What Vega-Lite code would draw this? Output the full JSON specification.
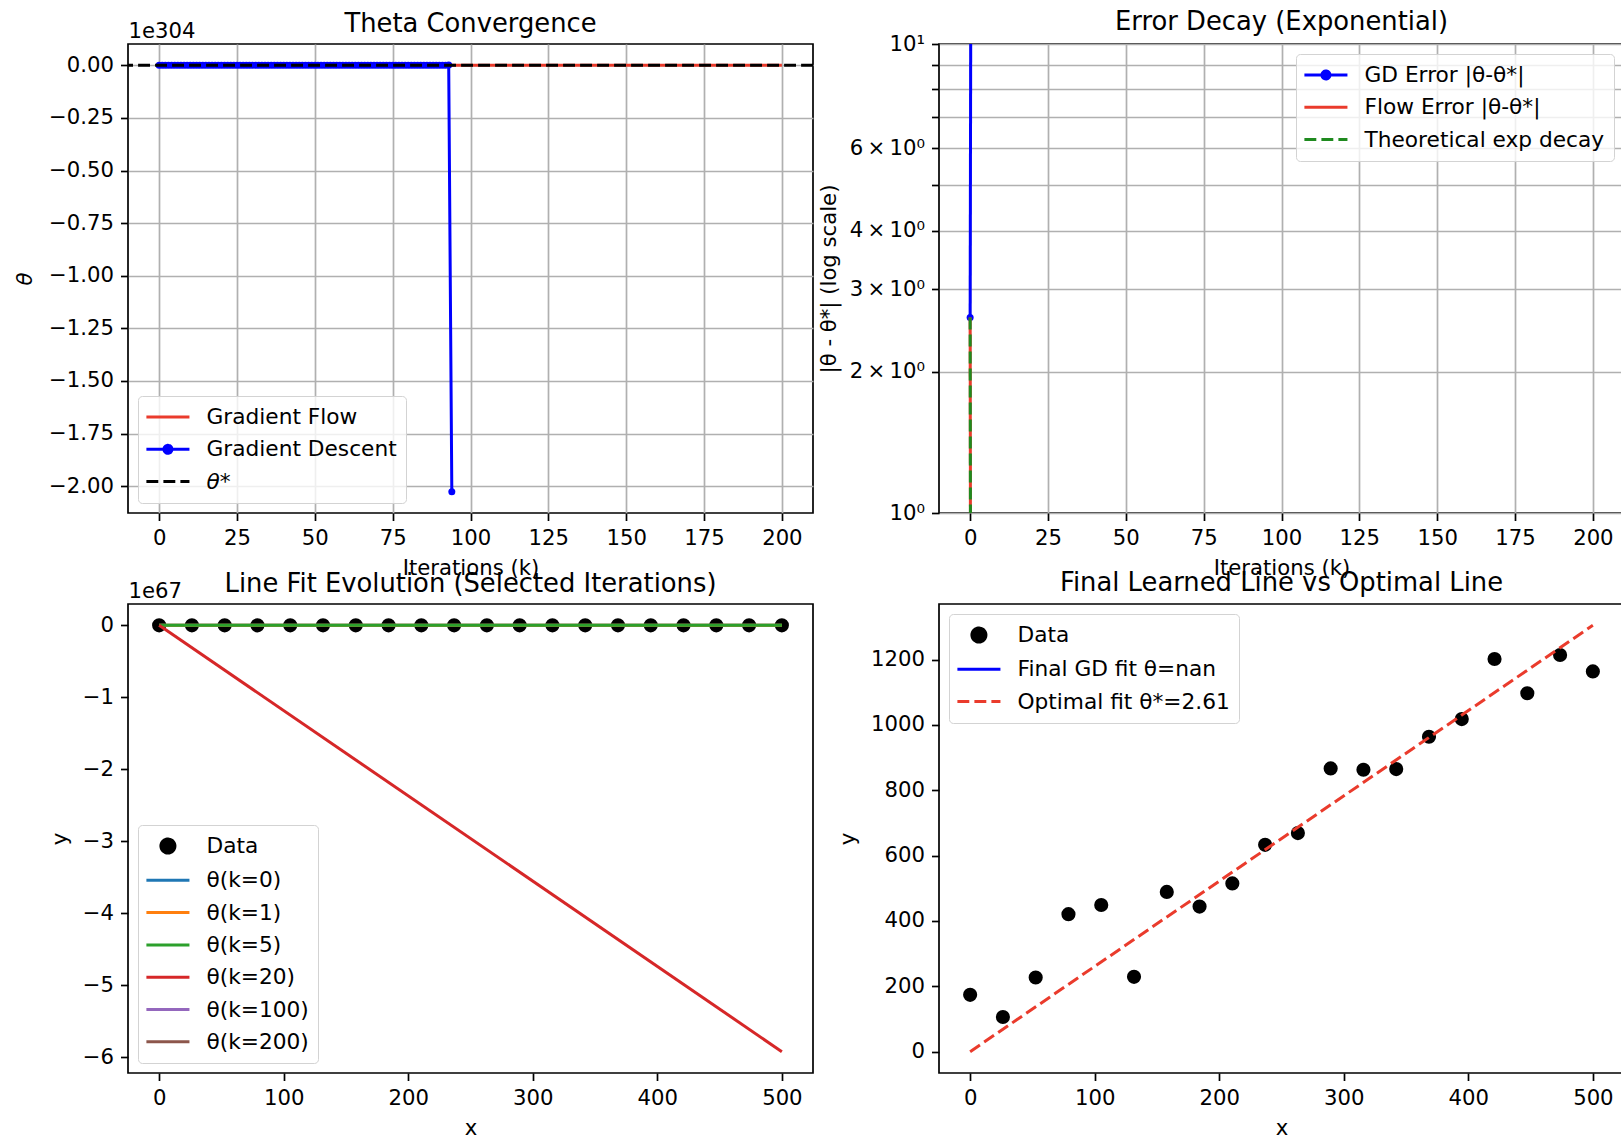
{
"$schema": "https://vega.github.io/schema/vega-lite/v6.json",
"padding": {"left": 13, "top": 7, "right": 0, "bottom": 0},
"background": "white",
"bounds": "flush",
"columns": 2,
"spacing": {"row": 91, "column": 126},
"datasets": {
"gd_theta": [
{"k":0,"theta":0,"series":"Gradient Descent"},{"k":1,"theta":0,"series":"Gradient Descent"},{"k":2,"theta":0,"series":"Gradient Descent"},{"k":3,"theta":0,"series":"Gradient Descent"},{"k":4,"theta":0,"series":"Gradient Descent"},{"k":5,"theta":0,"series":"Gradient Descent"},{"k":6,"theta":0,"series":"Gradient Descent"},{"k":7,"theta":0,"series":"Gradient Descent"},{"k":8,"theta":0,"series":"Gradient Descent"},{"k":9,"theta":0,"series":"Gradient Descent"},
{"k":10,"theta":0,"series":"Gradient Descent"},{"k":11,"theta":0,"series":"Gradient Descent"},{"k":12,"theta":0,"series":"Gradient Descent"},{"k":13,"theta":0,"series":"Gradient Descent"},{"k":14,"theta":0,"series":"Gradient Descent"},{"k":15,"theta":0,"series":"Gradient Descent"},{"k":16,"theta":0,"series":"Gradient Descent"},{"k":17,"theta":0,"series":"Gradient Descent"},{"k":18,"theta":0,"series":"Gradient Descent"},{"k":19,"theta":0,"series":"Gradient Descent"},
{"k":20,"theta":0,"series":"Gradient Descent"},{"k":21,"theta":0,"series":"Gradient Descent"},{"k":22,"theta":0,"series":"Gradient Descent"},{"k":23,"theta":0,"series":"Gradient Descent"},{"k":24,"theta":0,"series":"Gradient Descent"},{"k":25,"theta":0,"series":"Gradient Descent"},{"k":26,"theta":0,"series":"Gradient Descent"},{"k":27,"theta":0,"series":"Gradient Descent"},{"k":28,"theta":0,"series":"Gradient Descent"},{"k":29,"theta":0,"series":"Gradient Descent"},
{"k":30,"theta":0,"series":"Gradient Descent"},{"k":31,"theta":0,"series":"Gradient Descent"},{"k":32,"theta":0,"series":"Gradient Descent"},{"k":33,"theta":0,"series":"Gradient Descent"},{"k":34,"theta":0,"series":"Gradient Descent"},{"k":35,"theta":0,"series":"Gradient Descent"},{"k":36,"theta":0,"series":"Gradient Descent"},{"k":37,"theta":0,"series":"Gradient Descent"},{"k":38,"theta":0,"series":"Gradient Descent"},{"k":39,"theta":0,"series":"Gradient Descent"},
{"k":40,"theta":0,"series":"Gradient Descent"},{"k":41,"theta":0,"series":"Gradient Descent"},{"k":42,"theta":0,"series":"Gradient Descent"},{"k":43,"theta":0,"series":"Gradient Descent"},{"k":44,"theta":0,"series":"Gradient Descent"},{"k":45,"theta":0,"series":"Gradient Descent"},{"k":46,"theta":0,"series":"Gradient Descent"},{"k":47,"theta":0,"series":"Gradient Descent"},{"k":48,"theta":0,"series":"Gradient Descent"},{"k":49,"theta":0,"series":"Gradient Descent"},
{"k":50,"theta":0,"series":"Gradient Descent"},{"k":51,"theta":0,"series":"Gradient Descent"},{"k":52,"theta":0,"series":"Gradient Descent"},{"k":53,"theta":0,"series":"Gradient Descent"},{"k":54,"theta":0,"series":"Gradient Descent"},{"k":55,"theta":0,"series":"Gradient Descent"},{"k":56,"theta":0,"series":"Gradient Descent"},{"k":57,"theta":0,"series":"Gradient Descent"},{"k":58,"theta":0,"series":"Gradient Descent"},{"k":59,"theta":0,"series":"Gradient Descent"},
{"k":60,"theta":0,"series":"Gradient Descent"},{"k":61,"theta":0,"series":"Gradient Descent"},{"k":62,"theta":0,"series":"Gradient Descent"},{"k":63,"theta":0,"series":"Gradient Descent"},{"k":64,"theta":0,"series":"Gradient Descent"},{"k":65,"theta":0,"series":"Gradient Descent"},{"k":66,"theta":0,"series":"Gradient Descent"},{"k":67,"theta":0,"series":"Gradient Descent"},{"k":68,"theta":0,"series":"Gradient Descent"},{"k":69,"theta":0,"series":"Gradient Descent"},
{"k":70,"theta":0,"series":"Gradient Descent"},{"k":71,"theta":0,"series":"Gradient Descent"},{"k":72,"theta":0,"series":"Gradient Descent"},{"k":73,"theta":0,"series":"Gradient Descent"},{"k":74,"theta":0,"series":"Gradient Descent"},{"k":75,"theta":0,"series":"Gradient Descent"},{"k":76,"theta":0,"series":"Gradient Descent"},{"k":77,"theta":0,"series":"Gradient Descent"},{"k":78,"theta":0,"series":"Gradient Descent"},{"k":79,"theta":0,"series":"Gradient Descent"},
{"k":80,"theta":0,"series":"Gradient Descent"},{"k":81,"theta":0,"series":"Gradient Descent"},{"k":82,"theta":0,"series":"Gradient Descent"},{"k":83,"theta":0,"series":"Gradient Descent"},{"k":84,"theta":0,"series":"Gradient Descent"},{"k":85,"theta":0,"series":"Gradient Descent"},{"k":86,"theta":0,"series":"Gradient Descent"},{"k":87,"theta":0,"series":"Gradient Descent"},{"k":88,"theta":0,"series":"Gradient Descent"},{"k":89,"theta":0,"series":"Gradient Descent"},
{"k":90,"theta":0,"series":"Gradient Descent"},{"k":91,"theta":0,"series":"Gradient Descent"},{"k":92,"theta":0,"series":"Gradient Descent"},{"k":93,"theta":1.19e301,"series":"Gradient Descent"},{"k":94,"theta":-2.026e304,"series":"Gradient Descent"}
],
"flow_theta": [
{"k":0,"theta":0,"series":"Gradient Flow"},{"k":1,"theta":2.61,"series":"Gradient Flow"},{"k":2,"theta":2.61,"series":"Gradient Flow"},{"k":5,"theta":2.61,"series":"Gradient Flow"},{"k":10,"theta":2.61,"series":"Gradient Flow"},{"k":20,"theta":2.61,"series":"Gradient Flow"},{"k":50,"theta":2.61,"series":"Gradient Flow"},{"k":100,"theta":2.61,"series":"Gradient Flow"},{"k":150,"theta":2.61,"series":"Gradient Flow"},{"k":200,"theta":2.61,"series":"Gradient Flow"}
],
"theta_star": [{"theta":2.61,"series":"θ*"}],
"gd_err": [{"k":0,"err":2.61,"series":"GD Error |θ-θ*|"},{"k":1,"err":4460,"series":"GD Error |θ-θ*|"}],
"flow_err": [{"k":0,"err":2.61,"series":"Flow Error |θ-θ*|"},{"k":1,"err":0.0001,"series":"Flow Error |θ-θ*|"}],
"theory_err": [{"k":0,"err":2.61,"series":"Theoretical exp decay"},{"k":1,"err":0.0001,"series":"Theoretical exp decay"}],
"points": [
{"x":0,"y":174,"series":"Data"},{"x":26.316,"y":106,"series":"Data"},{"x":52.632,"y":227,"series":"Data"},{"x":78.947,"y":421,"series":"Data"},{"x":105.263,"y":449,"series":"Data"},
{"x":131.579,"y":229,"series":"Data"},{"x":157.895,"y":489,"series":"Data"},{"x":184.211,"y":444,"series":"Data"},{"x":210.526,"y":515,"series":"Data"},{"x":236.842,"y":633,"series":"Data"},
{"x":263.158,"y":669,"series":"Data"},{"x":289.474,"y":867,"series":"Data"},{"x":315.789,"y":863,"series":"Data"},{"x":342.105,"y":865,"series":"Data"},{"x":368.421,"y":964,"series":"Data"},
{"x":394.737,"y":1018,"series":"Data"},{"x":421.053,"y":1202,"series":"Data"},{"x":447.368,"y":1097,"series":"Data"},{"x":473.684,"y":1214,"series":"Data"},{"x":500,"y":1164,"series":"Data"}
],
"fits": [
{"x":0,"y":0,"series":"θ(k=0)"},{"x":500,"y":0,"series":"θ(k=0)"},
{"x":0,"y":0,"series":"θ(k=1)"},{"x":500,"y":2230000,"series":"θ(k=1)"},
{"x":0,"y":0,"series":"θ(k=5)"},{"x":500,"y":1.9e19,"series":"θ(k=5)"},
{"x":0,"y":0,"series":"θ(k=20)"},{"x":500,"y":-5.92e67,"series":"θ(k=20)"},
{"x":0,"y":null,"series":"θ(k=100)"},{"x":500,"y":null,"series":"θ(k=100)"},
{"x":0,"y":null,"series":"θ(k=200)"},{"x":500,"y":null,"series":"θ(k=200)"}
],
"final_gd": [{"x":0,"y":null,"series":"Final GD fit θ=nan"},{"x":500,"y":null,"series":"Final GD fit θ=nan"}],
"optimal": [{"x":0,"y":0,"series":"Optimal fit θ*=2.61"},{"x":500,"y":1305,"series":"Optimal fit θ*=2.61"}]
},
"concat": [
{
"title": {"text": "Theta Convergence", "offset": -17.5},
"width": 685, "height": 469,
"encoding": {
"y": {"field": "theta", "type": "quantitative", "scale": {"domain": [-2.1274e304, 1.013e303], "nice": false, "zero": false},
"axis": {"values": [-2e304, -1.75e304, -1.5e304, -1.25e304, -1e304, -7.5e303, -5e303, -2.5e303, 0], "labelExpr": "format(datum.value / 1e304, '.2f')", "grid": true, "title": "θ", "titleFontStyle": "italic", "titlePadding": 13}},
"color": {"field": "series", "type": "nominal", "scale": {"domain": ["Gradient Flow", "Gradient Descent", "θ*"], "range": ["#ea3b2c", "#0000ff", "#000000"]},
"legend": {"title": null, "orient": "bottom-left", "offset": 10, "labelLimit": 400,
"encode": {"symbols": {"update": {
"shape": {"signal": "datum.value === 'Gradient Descent' ? 'M-1.2,0H2.9M1.23,0A0.38,0.38,0,1,1,0.47,0A0.38,0.38,0,1,1,1.23,0Z' : 'M-1.2,0H2.9'"},
"stroke": {"signal": "datum.value === 'Gradient Flow' ? '#ea3b2c' : datum.value === 'Gradient Descent' ? '#0000ff' : '#000000'"},
"fill": {"signal": "datum.value === 'Gradient Descent' ? '#0000ff' : 'transparent'"},
"strokeDash": {"signal": "datum.value === 'θ*' ? [11.9, 5.1] : [1, 0]"},
"strokeWidth": {"value": 3}, "opacity": {"value": 1}}},
"labels": {"update": {"fontStyle": {"signal": "datum.value === 'θ*' ? 'italic' : 'normal'"}}}}}}
},
"layer": [
{"data": {"name": "flow_theta"}, "mark": {"type": "line", "strokeWidth": 3, "clip": true},
"encoding": {"x": {"field": "k", "type": "quantitative", "scale": {"domain": [-10, 210], "nice": false, "zero": false},
"axis": {"orient": "bottom", "values": [0, 25, 50, 75, 100, 125, 150, 175, 200], "grid": true, "title": "Iterations (k)", "titlePadding": 9}}}},
{"data": {"name": "gd_theta"}, "mark": {"type": "line", "strokeWidth": 3, "clip": true, "point": {"filled": true, "size": 49, "opacity": 1}},
"encoding": {"x": {"field": "k", "type": "quantitative",
"axis": {"orient": "top", "title": "1e304", "labels": false, "ticks": false, "domain": false, "grid": false, "titleAnchor": "start", "titleAlign": "left", "titleAngle": 0, "titleBaseline": "alphabetic", "titleX": 0, "titleY": -7}}}},
{"data": {"name": "theta_star"}, "mark": {"type": "rule", "strokeWidth": 3, "strokeDash": [11.9, 5.1]}, "encoding": {}}
],
"resolve": {"axis": {"x": "independent"}}
},
{
"title": {"text": "Error Decay (Exponential)", "offset": -2.5},
"width": 685, "height": 469,
"encoding": {
"x": {"field": "k", "type": "quantitative", "scale": {"domain": [-10, 210], "nice": false, "zero": false},
"axis": {"values": [0, 25, 50, 75, 100, 125, 150, 175, 200], "grid": true, "title": "Iterations (k)", "titlePadding": 9}},
"y": {"field": "err", "type": "quantitative", "scale": {"type": "log", "domain": [1, 10], "nice": false},
"axis": {"values": [1, 2, 3, 4, 5, 6, 7, 8, 9, 10], "grid": true, "title": "|θ - θ*| (log scale)", "titlePadding": 10,
"labelExpr": "datum.value === 1 ? '10⁰' : datum.value === 10 ? '10¹' : (datum.value === 2 || datum.value === 3 || datum.value === 4 || datum.value === 6) ? datum.value + '\u2009×\u200910⁰' : ''"}},
"color": {"field": "series", "type": "nominal", "scale": {"domain": ["GD Error |θ-θ*|", "Flow Error |θ-θ*|", "Theoretical exp decay"], "range": ["#0000ff", "#ea3b2c", "#1f8a1f"]},
"legend": {"title": null, "orient": "top-right", "offset": 10, "labelLimit": 400,
"encode": {"symbols": {"update": {
"shape": {"signal": "datum.value === 'GD Error |θ-θ*|' ? 'M-1.2,0H2.9M1.23,0A0.38,0.38,0,1,1,0.47,0A0.38,0.38,0,1,1,1.23,0Z' : 'M-1.2,0H2.9'"},
"stroke": {"signal": "datum.value === 'GD Error |θ-θ*|' ? '#0000ff' : datum.value === 'Flow Error |θ-θ*|' ? '#ea3b2c' : '#1f8a1f'"},
"fill": {"signal": "datum.value === 'GD Error |θ-θ*|' ? '#0000ff' : 'transparent'"},
"strokeDash": {"signal": "datum.value === 'Theoretical exp decay' ? [11.9, 5.1] : [1, 0]"},
"strokeWidth": {"value": 3}, "opacity": {"value": 1}}}}}}
},
"layer": [
{"data": {"name": "gd_err"}, "mark": {"type": "line", "strokeWidth": 3, "clip": true}},
{"data": {"name": "gd_err"}, "mark": {"type": "point", "filled": true, "size": 49, "opacity": 1, "clip": true}},
{"data": {"name": "flow_err"}, "mark": {"type": "line", "strokeWidth": 3, "clip": true}},
{"data": {"name": "theory_err"}, "mark": {"type": "line", "strokeWidth": 3, "clip": true, "strokeDash": [11.9, 5.1]}}
]
},
{
"title": {"text": "Line Fit Evolution (Selected Iterations)", "offset": -17.5},
"width": 685, "height": 469,
"encoding": {
"y": {"field": "y", "type": "quantitative", "scale": {"domain": [-6.216e67, 2.96e66], "nice": false, "zero": false},
"axis": {"values": [-6e67, -5e67, -4e67, -3e67, -2e67, -1e67, 0], "labelExpr": "format(datum.value / 1e67, '.0f')", "title": "y", "titlePadding": 12}},
"color": {"field": "series", "type": "nominal", "scale": {"domain": ["Data", "θ(k=0)", "θ(k=1)", "θ(k=5)", "θ(k=20)", "θ(k=100)", "θ(k=200)"], "range": ["#000000", "#1f77b4", "#ff7f0e", "#2ca02c", "#d62728", "#9467bd", "#8c564b"]},
"legend": {"title": null, "orient": "bottom-left", "offset": 10, "labelLimit": 400,
"encode": {"symbols": {"update": {
"shape": {"signal": "datum.value === 'Data' ? 'M1.517,0A0.667,0.667,0,1,1,0.183,0A0.667,0.667,0,1,1,1.517,0Z' : 'M-1.2,0H2.9'"},
"stroke": {"signal": "datum.value === 'Data' ? 'transparent' : datum.value === 'θ(k=0)' ? '#1f77b4' : datum.value === 'θ(k=1)' ? '#ff7f0e' : datum.value === 'θ(k=5)' ? '#2ca02c' : datum.value === 'θ(k=20)' ? '#d62728' : datum.value === 'θ(k=100)' ? '#9467bd' : '#8c564b'"},
"fill": {"signal": "datum.value === 'Data' ? '#000000' : 'transparent'"},
"strokeDash": {"value": [1, 0]},
"strokeWidth": {"value": 3}, "opacity": {"value": 1}}}}}}
},
"layer": [
{"data": {"name": "points"}, "mark": {"type": "point", "filled": true, "size": 200, "opacity": 1},
"encoding": {"x": {"field": "x", "type": "quantitative", "scale": {"domain": [-25, 525], "nice": false, "zero": false},
"axis": {"orient": "bottom", "values": [0, 100, 200, 300, 400, 500], "title": "x", "titlePadding": 9}}}},
{"data": {"name": "fits"}, "mark": {"type": "line", "strokeWidth": 3, "clip": true},
"encoding": {"x": {"field": "x", "type": "quantitative",
"axis": {"orient": "top", "title": "1e67", "labels": false, "ticks": false, "domain": false, "grid": false, "titleAnchor": "start", "titleAlign": "left", "titleAngle": 0, "titleBaseline": "alphabetic", "titleX": 0, "titleY": -7}}}}
],
"resolve": {"axis": {"x": "independent"}}
},
{
"title": {"text": "Final Learned Line vs Optimal Line", "offset": 7},
"width": 685, "height": 469,
"encoding": {
"x": {"field": "x", "type": "quantitative", "scale": {"domain": [-25, 525], "nice": false, "zero": false},
"axis": {"values": [0, 100, 200, 300, 400, 500], "title": "x", "titlePadding": 9}},
"y": {"field": "y", "type": "quantitative", "scale": {"domain": [-65.25, 1370.25], "nice": false, "zero": false},
"axis": {"values": [0, 200, 400, 600, 800, 1000, 1200], "format": "d", "title": "y", "titlePadding": 12}},
"color": {"field": "series", "type": "nominal", "scale": {"domain": ["Data", "Final GD fit θ=nan", "Optimal fit θ*=2.61"], "range": ["#000000", "#0000ff", "#ea3b2c"]},
"legend": {"title": null, "orient": "top-left", "offset": 10, "labelLimit": 400,
"encode": {"symbols": {"update": {
"shape": {"signal": "datum.value === 'Data' ? 'M1.517,0A0.667,0.667,0,1,1,0.183,0A0.667,0.667,0,1,1,1.517,0Z' : 'M-1.2,0H2.9'"},
"stroke": {"signal": "datum.value === 'Data' ? 'transparent' : datum.value === 'Final GD fit θ=nan' ? '#0000ff' : '#ea3b2c'"},
"fill": {"signal": "datum.value === 'Data' ? '#000000' : 'transparent'"},
"strokeDash": {"signal": "datum.value === 'Optimal fit θ*=2.61' ? [11.9, 5.1] : [1, 0]"},
"strokeWidth": {"value": 3}, "opacity": {"value": 1}}}}}}
},
"layer": [
{"data": {"name": "points"}, "mark": {"type": "point", "filled": true, "size": 200, "opacity": 1}},
{"data": {"name": "final_gd"}, "mark": {"type": "line", "strokeWidth": 3, "clip": true}},
{"data": {"name": "optimal"}, "mark": {"type": "line", "strokeWidth": 3, "clip": true, "strokeDash": [11.9, 5.1]}}
]
}
],
"resolve": {"scale": {"x": "independent", "y": "independent", "color": "independent"}, "legend": {"color": "independent"}, "axis": {"x": "independent", "y": "independent"}},
"config": {
"font": "DejaVu Sans",
"view": {"stroke": "#000000", "strokeWidth": 1.7},
"axis": {"domain": false, "grid": false, "gridColor": "#b0b0b0", "gridWidth": 1.7, "tickColor": "#000000", "tickWidth": 1.7, "tickSize": 7.5,
"labelFont": "DejaVu Sans", "labelFontSize": 21.2, "labelColor": "#000000", "labelPadding": 7, "labelFlush": false, "labelOverlap": false,
"titleFont": "DejaVu Sans", "titleFontSize": 21.2, "titleFontWeight": "normal", "titleColor": "#000000"},
"title": {"font": "DejaVu Sans", "fontSize": 25.8, "fontWeight": "normal", "color": "#000000", "baseline": "alphabetic", "anchor": "middle", "frame": "group"},
"legend": {"labelFont": "DejaVu Sans", "labelFontSize": 21.7, "labelColor": "#000000", "symbolSize": 441, "symbolStrokeWidth": 3, "padding": 9, "rowPadding": 8.3, "labelOffset": 35.5, "strokeColor": "#d3d3d3", "fillColor": "rgba(255,255,255,0.8)", "cornerRadius": 4, "labelLimit": 400}
}
}
